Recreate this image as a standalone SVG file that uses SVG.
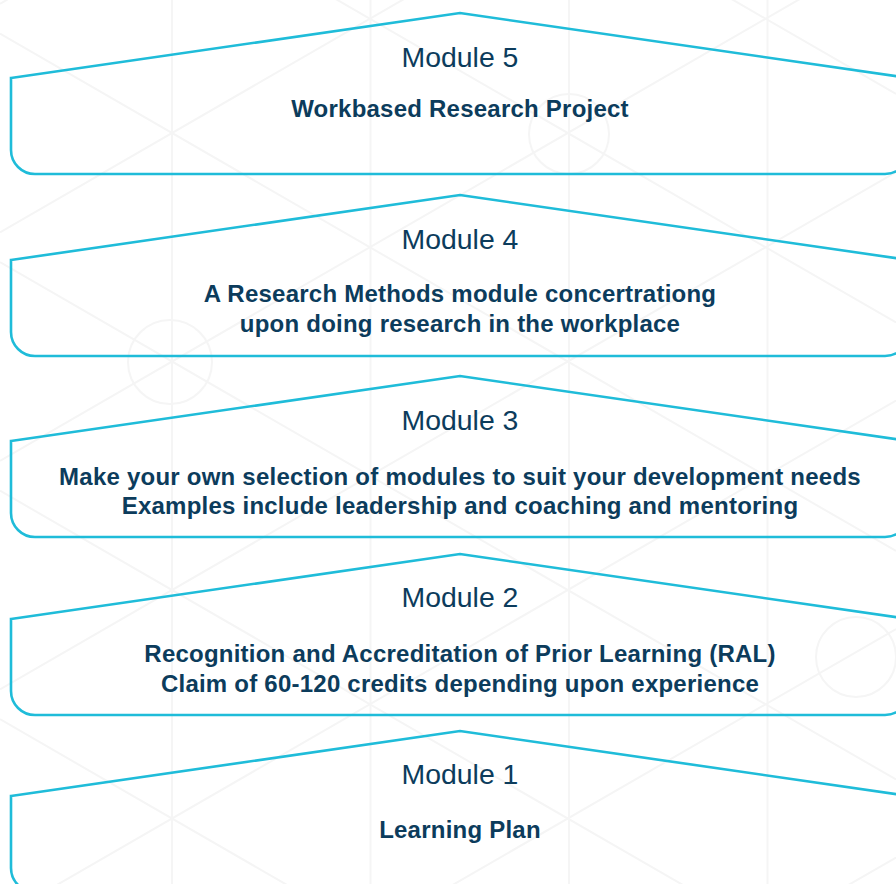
<svg xmlns="http://www.w3.org/2000/svg" width="896" height="884" viewBox="0 0 896 884">
<style>
.bg{fill:none;stroke:#f5f5f5;stroke-width:2}
.mod{fill:none;stroke:#1fbcd9;stroke-width:2.6;stroke-linejoin:miter}
.t{font-family:"Liberation Sans",Arial,Helvetica,sans-serif;font-size:28.4px;fill:#0c3c5c;text-anchor:middle}
.s{font-family:"Liberation Sans",Arial,Helvetica,sans-serif;font-size:24px;letter-spacing:0.23px;font-weight:bold;fill:#0c3c5c;text-anchor:middle}
</style>
<rect width="896" height="884" fill="#ffffff"/>
<g id="background">
<path class="bg" d="M172 0V884M370.5 0V884M569 0V884M767.5 0V884"/>
<path class="bg" d="M0 3.8L896 -513.5M0 232.3L896 -285M0 460.8L896 -56.5M0 689.3L896 172M0 917.8L896 400.5M0 1146.3L896 629M0 1374.8L896 857.5"/>
<path class="bg" d="M0 -651.8L896 -134.5M0 -423.3L896 94M0 -194.8L896 322.5M0 33.7L896 551M0 262.2L896 779.5M0 490.7L896 1008M0 719.2L896 1236.5"/>
<circle class="bg" cx="569" cy="134" r="40"/>
<circle class="bg" cx="170" cy="362" r="42"/>
<circle class="bg" cx="856" cy="657" r="40"/>
</g>
<g id="module5">
<path class="mod" d="M11 78L460 13L909 78V150A24 24 0 0 1 885 174H35A24 24 0 0 1 11 150Z"/>
<text class="t" x="460" y="67">Module 5</text>
<text class="s" x="460" y="117">Workbased Research Project</text>
</g>
<g id="module4">
<path class="mod" d="M11 260L460 195L909 260V332A24 24 0 0 1 885 356H35A24 24 0 0 1 11 332Z"/>
<text class="t" x="460" y="249">Module 4</text>
<text class="s" x="460" y="302">A Research Methods module concertrationg</text>
<text class="s" x="460" y="332">upon doing research in the workplace</text>
</g>
<g id="module3">
<path class="mod" d="M11 441L460 376L909 441V513A24 24 0 0 1 885 537H35A24 24 0 0 1 11 513Z"/>
<text class="t" x="460" y="430">Module 3</text>
<text class="s" x="460" y="485">Make your own selection of modules to suit your development needs</text>
<text class="s" x="460" y="514">Examples include leadership and coaching and mentoring</text>
</g>
<g id="module2">
<path class="mod" d="M11 619L460 554L909 619V691A24 24 0 0 1 885 715H35A24 24 0 0 1 11 691Z"/>
<text class="t" x="460" y="607">Module 2</text>
<text class="s" x="460" y="662">Recognition and Accreditation of Prior Learning (RAL)</text>
<text class="s" x="460" y="692">Claim of 60-120 credits depending upon experience</text>
</g>
<g id="module1">
<path class="mod" d="M11 796L460 731L909 796V868A24 24 0 0 1 885 892H35A24 24 0 0 1 11 868Z"/>
<text class="t" x="460" y="784">Module 1</text>
<text class="s" x="460" y="838">Learning Plan</text>
</g>
<g id="connectors"/>
</svg>
